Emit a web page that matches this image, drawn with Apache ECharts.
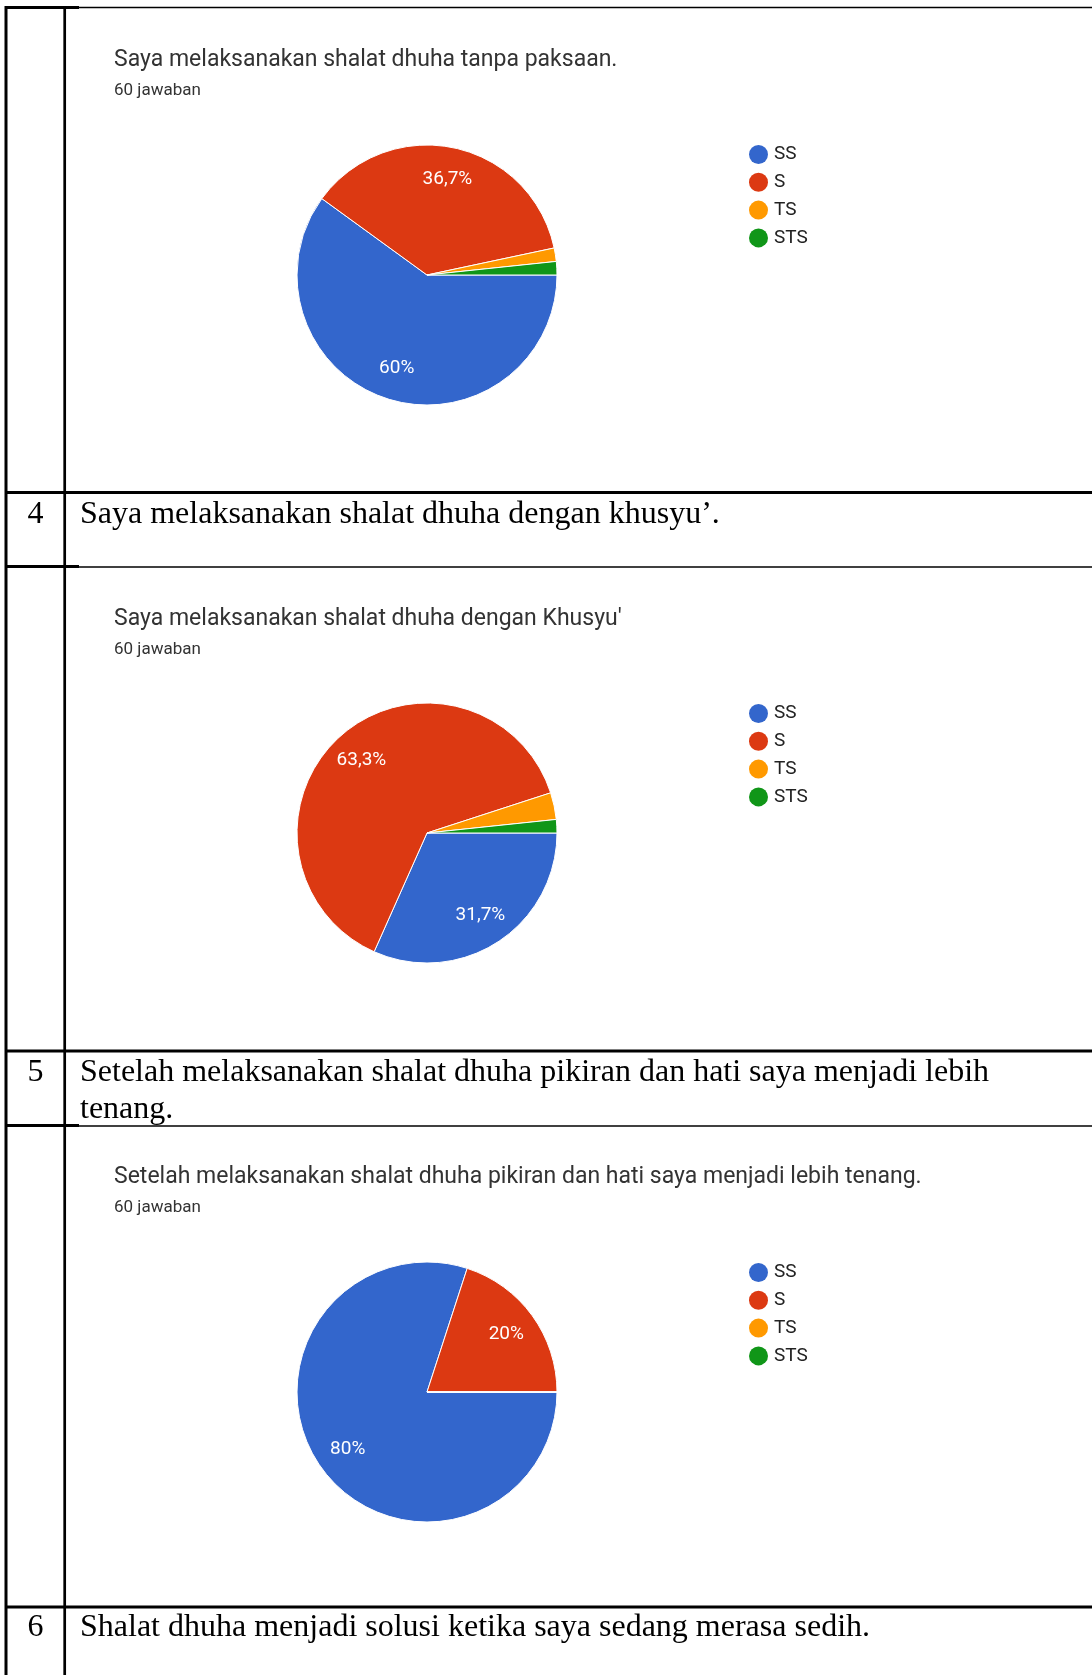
<!DOCTYPE html>
<html>
<head>
<meta charset="utf-8">
<script src="https://cdn.jsdelivr.net/npm/echarts@6/dist/echarts.min.js"></script>
<style>
html,body{margin:0;padding:0;background:#fff;}
#chart{width:1092px;height:1675px;}
</style>
</head>
<body>
<div id="chart"></div>
<script>
// ---- data ----
var categories = ['SS', 'S', 'TS', 'STS'];
var colors = ['#3366cc', '#dc3912', '#ff9900', '#109618'];
var q1Counts = [36, 22, 1, 1];
var q2Counts = [19, 38, 2, 1];
var q3Counts = [48, 12, 0, 0];
var chartTitles = [
  'Saya melaksanakan shalat dhuha tanpa paksaan.',
  "Saya melaksanakan shalat dhuha dengan Khusyu'",
  'Setelah melaksanakan shalat dhuha pikiran dan hati saya menjadi lebih tenang.'
];
var responseLabel = '60 jawaban';
var rowNumbers = ['4', '5', '6'];
var rowTexts = [
  'Saya melaksanakan shalat dhuha dengan khusyu\u2019.',
  'Setelah melaksanakan shalat dhuha pikiran dan hati saya menjadi lebih\ntenang.',
  'Shalat dhuha menjadi solusi ketika saya sedang merasa sedih.'
];

// ---- layout ----
var allCounts = [q1Counts, q2Counts, q3Counts];
var pieCY = [275, 833, 1392];
var pieCX = 427;
var R = 130;
var titleY = [60, 619, 1177];
var subY = [90, 649, 1207];
var legendTop = [145, 704, 1263];
var rowY = [515, 1073, 1628];

function fmtPct(p) {
  var v = Math.round(p * 10) / 10;
  var s = (v % 1 === 0) ? v.toFixed(0) : v.toFixed(1);
  return s.replace('.', ',') + '%';
}

var series = [], titles = [], legends = [];
allCounts.forEach(function (counts, i) {
  var data = categories.map(function (c, k) {
    return { name: c, value: counts[k], itemStyle: { color: colors[k] } };
  });
  series.push({
    type: 'pie', center: [pieCX, pieCY[i]], radius: [0, R],
    startAngle: 0, clockwise: true, silent: true, animation: false,
    label: { show: false }, labelLine: { show: false },
    itemStyle: { borderColor: '#fff', borderWidth: 1 },
    data: data
  });
  var total = counts.reduce(function (a, b) { return a + b; }, 0);
  series.push({
    type: 'pie', center: [pieCX, pieCY[i]], radius: [60, R],
    startAngle: 0, clockwise: true, silent: true, animation: false,
    labelLine: { show: false },
    itemStyle: { color: 'rgba(0,0,0,0)', borderWidth: 0 },
    label: {
      show: true, position: 'inside', color: '#fff', fontSize: 19,
      fontFamily: 'Roboto',
      formatter: function (p) {
        var pct = p.value / total * 100;
        return pct >= 5 ? fmtPct(pct) : '';
      }
    },
    data: categories.map(function (c, k) { return { name: c + ' ', value: counts[k] }; })
  });
  titles.push({
    text: chartTitles[i], left: 114, top: titleY[i] - 11, padding: 0,
    textStyle: { fontFamily: 'Roboto', fontSize: 23, fontWeight: 'normal', color: '#333', lineHeight: 23 }
  });
  titles.push({
    text: responseLabel, left: 114, top: subY[i] - 8, padding: 0,
    textStyle: { fontFamily: 'Roboto', fontSize: 17, fontWeight: 'normal', color: '#333', lineHeight: 17 }
  });
  legends.push({
    orient: 'vertical', left: 749, top: legendTop[i], padding: 0,
    icon: 'circle', itemWidth: 19, itemHeight: 19, itemGap: 8.8,
    selectedMode: false,
    itemStyle: { borderWidth: 0 },
    textStyle: { fontFamily: 'Roboto', fontSize: 19, color: '#222', lineHeight: 19, padding: [0, 0, 0, 1] },
    data: categories.slice()
  });
});

// table lines and row text
var graphics = [];
function line(x1, y1, x2, y2, w) {
  graphics.push({ type: 'line', silent: true,
    shape: { x1: x1, y1: y1, x2: x2, y2: y2 },
    style: { stroke: '#000', lineWidth: w } });
}
line(6, 6, 6, 1675, 3);
line(64.7, 6, 64.7, 1675, 2.7);
line(6, 7.5, 1092, 7.5, 1.3);
line(6, 7.5, 79, 7.5, 3);
[492.5, 1051, 1607].forEach(function (y) { line(6, y, 1092, y, 3); });
[567, 1126].forEach(function (y) { line(65, y, 1092, y, 1.3); line(6, y - 0.5, 79, y - 0.5, 3); });
rowNumbers.forEach(function (n, i) {
  graphics.push({ type: 'text', silent: true,
    style: { text: n, x: 35.5, y: rowY[i], fill: '#000', fontFamily: 'Liberation Serif',
      fontSize: 32, align: 'center', verticalAlign: 'middle' } });
  graphics.push({ type: 'text', silent: true,
    style: { text: rowTexts[i], x: 80, y: rowY[i] - 19, fill: '#000', fontFamily: 'Liberation Serif',
      fontSize: 32, lineHeight: 37, align: 'left', verticalAlign: 'top' } });
});

var chart = echarts.init(document.getElementById('chart'));
chart.setOption({
  backgroundColor: '#fff',
  animation: false,
  title: titles,
  legend: legends,
  graphic: graphics,
  series: series
});
</script>
</body>
</html>
